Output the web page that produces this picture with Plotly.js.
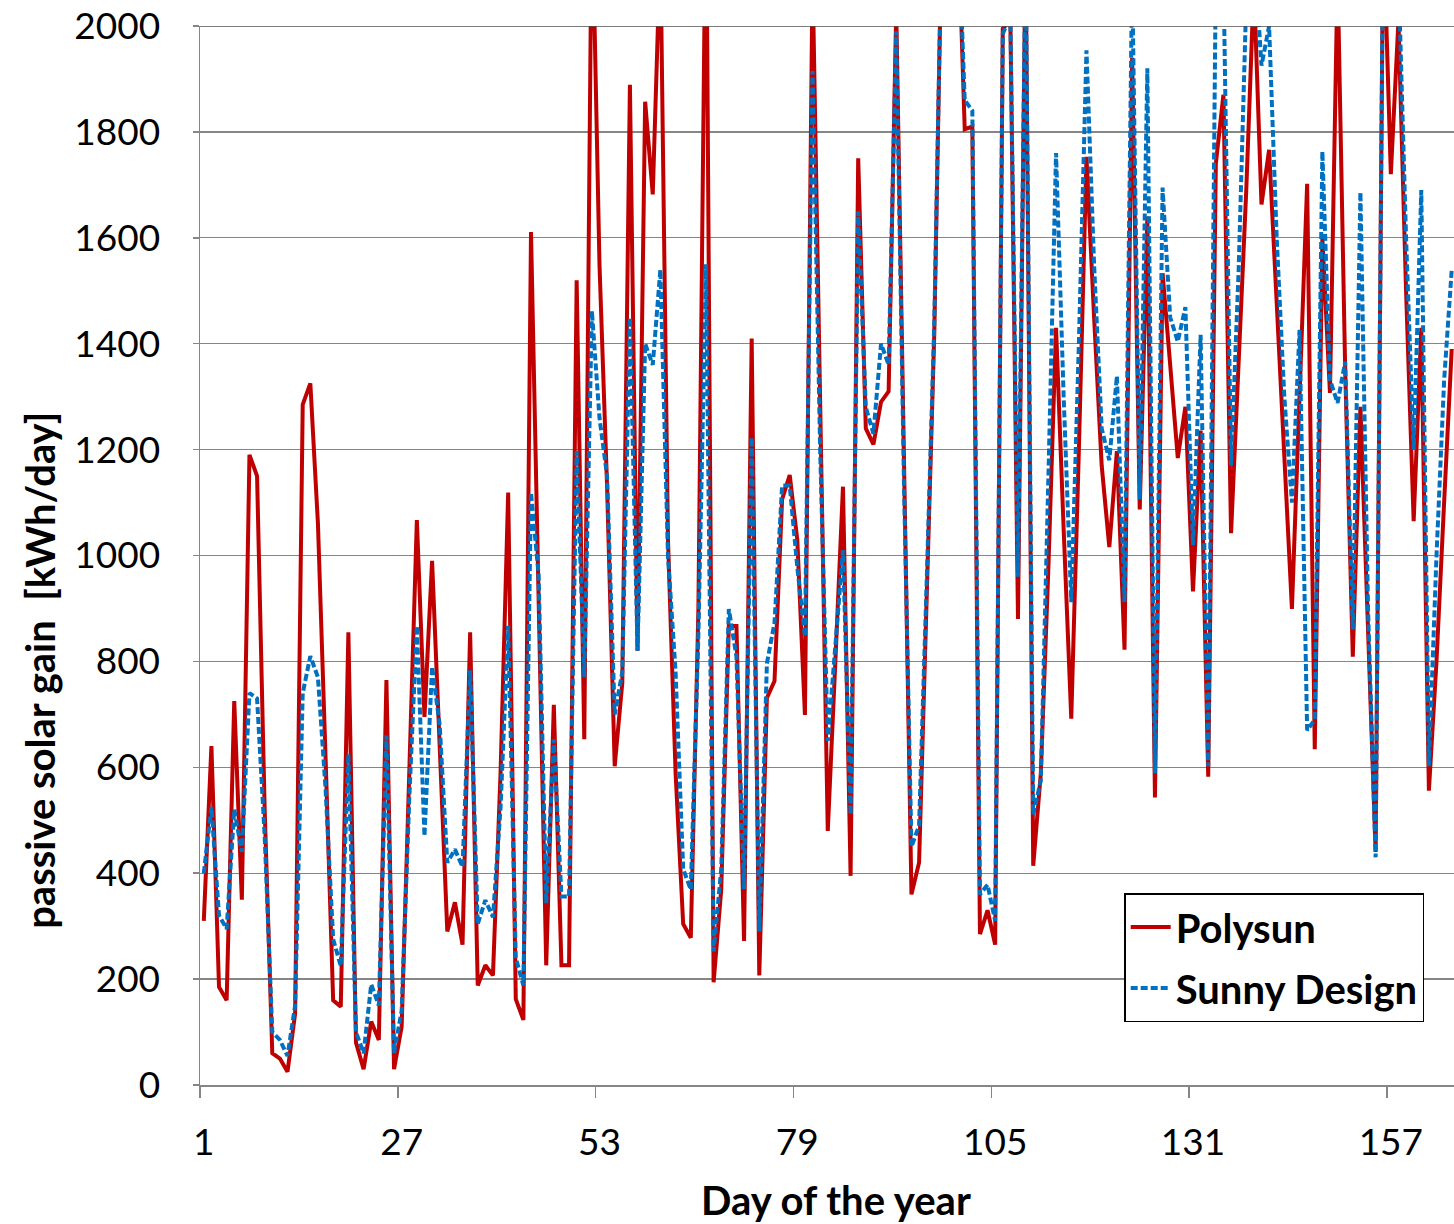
<!DOCTYPE html>
<html>
<head>
<meta charset="utf-8">
<script src="https://cdn.plot.ly/plotly-3.0.1.min.js"></script>
<style>html,body{margin:0;padding:0;background:#fff;}#chart{width:1454px;height:1224px;}</style>
</head>
<body>
<div id="chart"></div>
<script>
// Passive solar gain per day [kWh/day] (days 1..165)
const polysun = [
  310, 640, 185, 160, 725, 350, 1190, 1150, 520, 60,
  50, 25, 135, 1285, 1325, 1060, 620, 160, 148, 855,
  80, 30, 120, 85, 765, 30, 110, 600, 1067, 695,
  990, 640, 290, 345, 265, 855, 188, 226, 207, 590,
  1119, 162, 123, 1611, 900, 226, 718, 226, 226, 1520,
  653, 2250, 1550, 1130, 602, 760, 1889, 820, 1857, 1682,
  2150, 1030, 590, 304, 278, 900, 2300, 194, 369, 867,
  867, 272, 1410, 207, 731, 763, 1106, 1152, 1029, 699,
  2100, 1240, 480, 800, 1130, 395, 1750, 1240, 1210, 1290,
  1310, 2030, 1150, 360, 420, 900, 1420, 2200, 2250, 2250,
  1805, 1810, 285, 330, 265, 1995, 2010, 880, 2150, 414,
  589, 980, 1430, 1050, 692, 1200, 1753, 1450, 1170, 1016,
  1197, 822, 1940, 1087, 1640, 543, 1533, 1360, 1184, 1281,
  932, 1236, 582, 1740, 1870, 1042, 1370, 1690, 2080, 1663,
  1766, 1470, 1190, 899, 1300, 1702, 634, 1600, 1307, 2100,
  1350, 809, 1281, 870, 440, 2200, 1720, 2010, 1500, 1065,
  1430, 556, 800, 1100, 1390
];
const sunnyDesign = [
  400, 525, 320, 295, 520, 440, 740, 730, 470, 100,
  85, 55, 150, 740, 810, 770, 560, 275, 225, 625,
  100, 60, 190, 150, 660, 60, 140, 540, 867, 470,
  790, 680, 420, 445, 412, 783, 304, 349, 317, 524,
  867, 240, 188, 1119, 964, 343, 653, 356, 356, 1197,
  770, 1462, 1260, 1150, 700, 780, 1449, 820, 1400, 1360,
  1540, 1000, 780, 408, 369, 850, 1550, 252, 408, 899,
  809, 370, 1223, 290, 796, 873, 1132, 1132, 977, 847,
  1915, 1200, 650, 830, 1010, 511, 1650, 1280, 1230, 1400,
  1360, 1990, 1150, 450, 490, 950, 1440, 2200, 2250, 2250,
  1860, 1840, 360, 378, 310, 1985, 2020, 960, 2150, 511,
  575, 1150, 1760, 1300, 912, 1400, 1954, 1550, 1240, 1180,
  1339, 912, 2100, 1106, 1920, 589, 1695, 1450, 1404, 1469,
  1020, 1417, 602, 2100, 2100, 1170, 1540, 2050, 2150, 1925,
  2000, 1600, 1300, 1100, 1426, 670, 690, 1763, 1332, 1288,
  1366, 860, 1686, 900, 430, 2200, 2030, 2100, 1600, 1200,
  1690, 602, 1000, 1330, 1540
];
const days = polysun.map((_, i) => i + 1);
const xTickVals = [1, 27, 53, 79, 105, 131, 157];
const xTickText = ['1', '27', '53', '79', '105', '131', '157'];
const seriesNames = ['Polysun', 'Sunny Design'];
const xTitle = 'Day of the year';
const yTitle = 'passive solar gain  [kWh/day]';

const FONT = 'Lato, "Liberation Sans", sans-serif';
const GRID = '#868686';

const traces = [
  {
    x: days, y: polysun, name: seriesNames[0], type: 'scatter', mode: 'lines',
    line: {color: '#C00000', width: 4}, legendgroup: 'a'
  },
  {
    x: days, y: sunnyDesign, name: seriesNames[1], type: 'scatter', mode: 'lines',
    line: {color: '#0070C0', width: 4, dash: '7px,3px'}, legendgroup: 'b'
  }
];

const layout = {
  width: 1454, height: 1224,
  margin: {l: 200, r: 0, t: 26, b: 139, pad: 0},
  paper_bgcolor: '#ffffff', plot_bgcolor: '#ffffff',
  font: {family: FONT, size: 37, color: '#000'},
  showlegend: true,
  legend: {
    x: 0.737, y: 0.1813, xanchor: 'left', yanchor: 'top',
    bgcolor: '#ffffff', bordercolor: '#000000', borderwidth: 1.5,
    font: {family: FONT, size: 40, color: '#000', weight: 'bold'},
    tracegroupgap: 6, itemwidth: 40
  },
  xaxis: {
    range: [0.5, 165.3],
    tickmode: 'array', tickvals: xTickVals, ticktext: xTickText,
    ticks: '', showgrid: false, zeroline: false,
    showline: true, linecolor: GRID, linewidth: 1.5,
    ticklabelstandoff: 24,
    tickfont: {family: FONT, size: 37, color: '#000'},
    minor: {tick0: 0.5, dtick: 26, ticks: 'outside', ticklen: 11, tickcolor: GRID, tickwidth: 1.5, showgrid: false}
  },
  yaxis: {
    range: [0, 2000], tickmode: 'linear', tick0: 0, dtick: 200,
    ticks: 'outside', ticklen: 6, tickcolor: GRID, tickwidth: 1.5,
    showgrid: true, gridcolor: GRID, gridwidth: 1.3, zeroline: false,
    showline: true, linecolor: GRID, linewidth: 1.5,
    ticklabelstandoff: 25,
    tickfont: {family: FONT, size: 37, color: '#000'}
  },
  annotations: [
    {text: xTitle, xref: 'paper', yref: 'paper', x: 0.507, y: -0.1086,
     xanchor: 'center', yanchor: 'middle', showarrow: false,
     font: {family: FONT, size: 40, color: '#000', weight: 'bold'}},
    {text: yTitle, xref: 'paper', yref: 'paper', x: -0.1276, y: 0.392,
     xanchor: 'center', yanchor: 'middle', showarrow: false, textangle: -90,
     font: {family: FONT, size: 40, color: '#000', weight: 'bold'}}
  ],
  shapes: [
    {type: 'line', xref: 'paper', yref: 'y', x0: 0, x1: 1, y0: 2000, y1: 2000,
     line: {color: '#505050', width: 1.5}, layer: 'above'}
  ]
};

Plotly.newPlot('chart', traces, layout, {displayModeBar: false, staticPlot: true});
</script>
</body>
</html>
